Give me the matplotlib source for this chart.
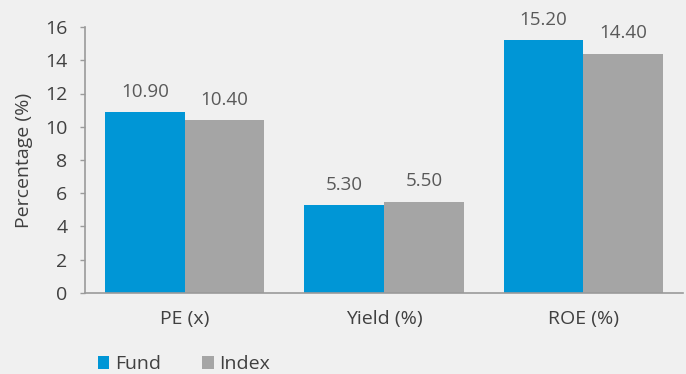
import matplotlib
matplotlib.use("Agg")
import matplotlib.pyplot as plt
import numpy as np

categories = ["PE (x)", "Yield (%)", "ROE (%)"]
fund = [10.90, 5.30, 15.20]
index_vals = [10.40, 5.50, 14.40]
series_names = ["Fund", "Index"]
yticks = [0, 2, 4, 6, 8, 10, 12, 14, 16]

plt.rcParams['font.family'] = ['Open Sans', 'DejaVu Sans']
bg = "#f0f0f0"
fund_c = "#0096d6"
idx_c = "#a5a5a5"
txt_c = "#404040"
lbl_c = "#595959"
spine_c = "#9a9a9a"
fs = 14

fig = plt.figure(figsize=(6.86, 3.74), dpi=100, facecolor=bg)
ax = fig.add_axes([0.1239, 0.2166, 0.8717, 0.7112], facecolor=bg)

x = np.arange(len(categories))
w = 0.4
b1 = ax.bar(x - w/2, fund, w, color=fund_c, label=series_names[0])
b2 = ax.bar(x + w/2, index_vals, w, color=idx_c, label=series_names[1])

for bars, vals in ((b1, fund), (b2, index_vals)):
    for r, v in zip(bars, vals):
        ax.annotate(f"{v:.2f}", (r.get_x() + r.get_width()/2, v),
                    xytext=(0, 8), textcoords="offset points",
                    ha="center", va="bottom", fontsize=13.5, color=lbl_c)

ax.set_xlim(-0.5, len(categories) - 0.5)
ax.set_ylim(0, 16)
ax.set_yticks(yticks)
ax.set_yticklabels([str(t) for t in yticks])
ax.set_xticks(x)
ax.set_xticklabels(categories)
ax.tick_params(axis="x", length=0, pad=12, labelsize=fs, labelcolor=txt_c)
ax.tick_params(axis="y", length=3.6, width=1, color=spine_c, pad=9, labelsize=fs, labelcolor=txt_c)
ax.set_ylabel("Percentage (%)", fontsize=fs, color=txt_c, labelpad=9)

for s in ("top", "right"):
    ax.spines[s].set_visible(False)
for s in ("left", "bottom"):
    ax.spines[s].set_color(spine_c)
    ax.spines[s].set_linewidth(1.2)

leg = fig.legend(handles=[b1, b2], labels=series_names, loc="lower left",
                 bbox_to_anchor=(0.117, -0.045), ncol=2, frameon=False,
                 fontsize=fs, handlelength=0.6, handleheight=0.6,
                 handletextpad=0.3, columnspacing=2.1)
for t in leg.get_texts():
    t.set_color(txt_c)

fig.savefig("out.png", dpi=100, facecolor=bg)
